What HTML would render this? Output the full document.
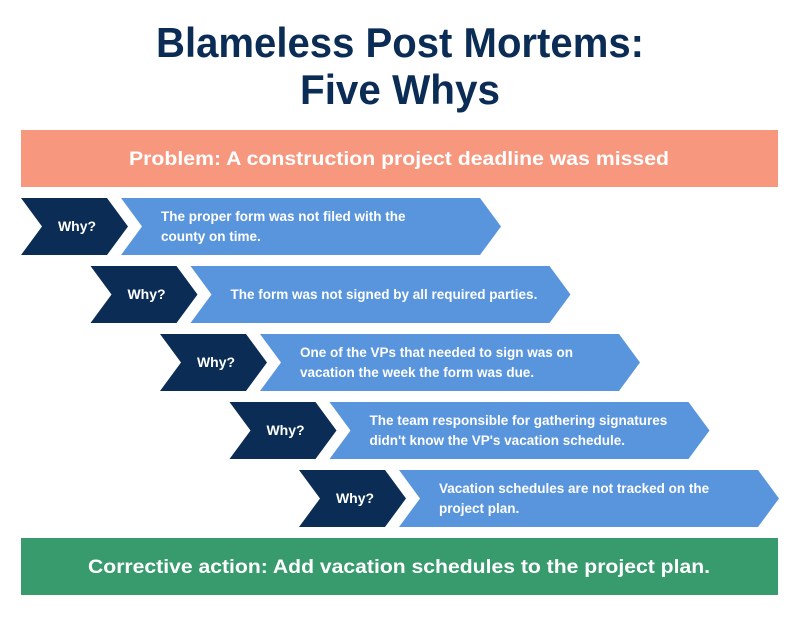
<!DOCTYPE html>
<html><head><meta charset="utf-8"><style>html,body{margin:0;padding:0;background:#fff}svg{display:block}</style></head><body>
<svg width="800" height="621" viewBox="0 0 800 621" xmlns="http://www.w3.org/2000/svg" font-family="Liberation Sans, sans-serif" font-weight="bold">
<text x="400" y="57" text-anchor="middle" font-size="42" fill="#0b2d55" textLength="488" lengthAdjust="spacingAndGlyphs">Blameless Post Mortems:</text>
<text x="400" y="104" text-anchor="middle" font-size="42" fill="#0b2d55" textLength="200" lengthAdjust="spacingAndGlyphs">Five Whys</text>
<rect x="21" y="130" width="757" height="57" fill="#f7977e"/>
<text x="399" y="165" text-anchor="middle" font-size="19" fill="#fff" textLength="540" lengthAdjust="spacingAndGlyphs">Problem: A construction project deadline was missed</text>
<g id="rows" font-size="14" fill="#fff"></g>
<rect x="21" y="538" width="757" height="57" fill="#379b6e"/>
<text x="399" y="573" text-anchor="middle" font-size="19" fill="#fff" textLength="622" lengthAdjust="spacingAndGlyphs">Corrective action: Add vacation schedules to the project plan.</text>

<g transform="translate(0,0)">
<polygon points="21,198 107,198 128,226.5 107,255 21,255 42,226.5" fill="#0b2d55"/>
<polygon points="121,198 480,198 501,226.5 480,255 121,255 142,226.5" fill="#5995dd"/>
<text x="77" y="231" text-anchor="middle" font-size="14" fill="#fff">Why?</text>
<text x="161" y="221" font-size="13.5" fill="#fff">The proper form was not filed with the</text>
<text x="161" y="241" font-size="13.5" fill="#fff">county on time.</text>
</g>
<g transform="translate(69.5,68)">
<polygon points="21,198 107,198 128,226.5 107,255 21,255 42,226.5" fill="#0b2d55"/>
<polygon points="121,198 480,198 501,226.5 480,255 121,255 142,226.5" fill="#5995dd"/>
<text x="77" y="231" text-anchor="middle" font-size="14" fill="#fff">Why?</text>
<text x="161" y="231" font-size="13.5" fill="#fff">The form was not signed by all required parties.</text>
</g>
<g transform="translate(139,136)">
<polygon points="21,198 107,198 128,226.5 107,255 21,255 42,226.5" fill="#0b2d55"/>
<polygon points="121,198 480,198 501,226.5 480,255 121,255 142,226.5" fill="#5995dd"/>
<text x="77" y="231" text-anchor="middle" font-size="14" fill="#fff">Why?</text>
<text x="161" y="221" font-size="13.5" fill="#fff">One of the VPs that needed to sign was on</text>
<text x="161" y="241" font-size="13.5" fill="#fff">vacation the week the form was due.</text>
</g>
<g transform="translate(208.5,204)">
<polygon points="21,198 107,198 128,226.5 107,255 21,255 42,226.5" fill="#0b2d55"/>
<polygon points="121,198 480,198 501,226.5 480,255 121,255 142,226.5" fill="#5995dd"/>
<text x="77" y="231" text-anchor="middle" font-size="14" fill="#fff">Why?</text>
<text x="161" y="221" font-size="13.5" fill="#fff">The team responsible for gathering signatures</text>
<text x="161" y="241" font-size="13.5" fill="#fff">didn't know the VP's vacation schedule.</text>
</g>
<g transform="translate(278,272)">
<polygon points="21,198 107,198 128,226.5 107,255 21,255 42,226.5" fill="#0b2d55"/>
<polygon points="121,198 480,198 501,226.5 480,255 121,255 142,226.5" fill="#5995dd"/>
<text x="77" y="231" text-anchor="middle" font-size="14" fill="#fff">Why?</text>
<text x="161" y="221" font-size="13.5" fill="#fff">Vacation schedules are not tracked on the</text>
<text x="161" y="241" font-size="13.5" fill="#fff">project plan.</text>
</g>
</svg>
</body></html>
